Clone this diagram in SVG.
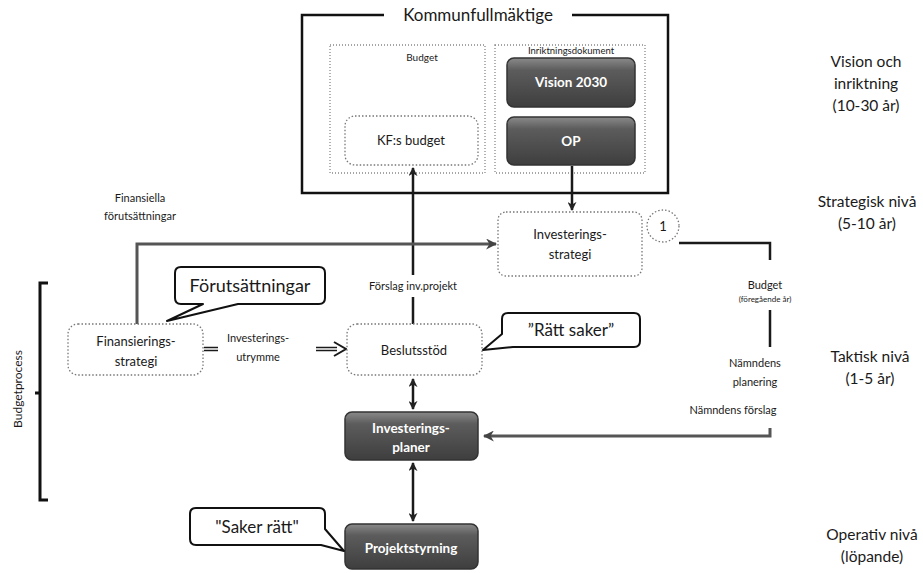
<svg xmlns="http://www.w3.org/2000/svg" width="923" height="573" viewBox="0 0 923 573">
<defs>
<linearGradient id="dark" x1="0" y1="0" x2="0" y2="1">
<stop offset="0" stop-color="#8a8a8a"/>
<stop offset="0.25" stop-color="#5c5c5c"/>
<stop offset="1" stop-color="#3e3e3e"/>
</linearGradient>
<marker id="arr" viewBox="0 0 10 10" refX="9" refY="5" markerWidth="9" markerHeight="9" markerUnits="userSpaceOnUse" orient="auto-start-reverse">
<path d="M0,0 L10,5 L0,10 L3,5 Z" fill="#222"/>
</marker>
<marker id="arrG" viewBox="0 0 10 10" refX="9" refY="5" markerWidth="11" markerHeight="11" markerUnits="userSpaceOnUse" orient="auto">
<path d="M0,0 L10,5 L0,10 L3,5 Z" fill="#444"/>
</marker>
</defs>
<style>
text{font-family:Lato,"Liberation Sans",sans-serif;fill:#1a1a1a}
.lt{fill:#fff;stroke:#777;stroke-width:1.3;stroke-dasharray:1.5 2}
.dk{fill:url(#dark);stroke:#333;stroke-width:1.5}
.grp{fill:none;stroke:#888;stroke-width:1.3;stroke-dasharray:1 2}
.call{fill:#fff;stroke:#111;stroke-width:2;stroke-linejoin:round}
.c{fill:none;stroke:#1a1a1a;stroke-width:2.5}
.g{fill:none;stroke:#555;stroke-width:3}
.dbl{fill:none;stroke:#1a1a1a;stroke-width:4.5}
.dbli{fill:none;stroke:#fff;stroke-width:1.5}
.t13{font-size:13px;text-anchor:middle}
.w{fill:#fff;font-size:13.5px;text-anchor:middle;font-weight:bold}
.side{font-size:15.5px;text-anchor:middle}
.s11{font-size:11px;text-anchor:middle}
</style>

<g id="kf">
<rect x="302" y="15" width="366" height="178" fill="none" stroke="#111" stroke-width="2.5"/>
<rect x="384" y="5" width="188" height="20" fill="#fff"/>
<text x="478" y="21" font-size="17" text-anchor="middle">Kommunfullmäktige</text>
</g>
<g id="budget-group">
<rect class="grp" x="330" y="45" width="155" height="128"/>
<text x="422" y="61" font-size="10" text-anchor="middle">Budget</text>
</g>
<g id="inriktning-group">
<rect class="grp" x="495" y="45" width="150" height="128"/>
<text x="571" y="54" font-size="9.5" text-anchor="middle">Inriktningsdokument</text>
</g>
<g id="vision">
<rect class="dk" x="507" y="58" width="128" height="49" rx="7"/>
<text class="w" x="571" y="87">Vision 2030</text>
</g>
<g id="op">
<rect class="dk" x="507" y="117" width="128" height="48" rx="7"/>
<text class="w" x="571" y="146">OP</text>
</g>
<g id="kfbudget">
<rect class="lt" x="345" y="116" width="133" height="49" rx="10"/>
<text class="t13" x="411" y="145" font-size="14">KF:s budget</text>
</g>

<g id="connectors">
<path class="c" d="M413,324 V297 M413,275 V168" marker-end="url(#arr)"/>
<path class="c" d="M572,166 V210" marker-end="url(#arr)"/>
<path class="g" d="M137,324 V244 H496" marker-end="url(#arrG)"/>
<path class="c" d="M679,243 H770 V260 M770,310 V347"/>
<path class="g" d="M770,428 V436 H484" marker-end="url(#arrG)"/>
<path class="dbl" d="M204,349 H218 M316,349 H337"/>
<path class="dbli" d="M204,349 H218 M316,349 H337"/>
<path d="M334,342 L346,349 L334,356" fill="none" stroke="#1a1a1a" stroke-width="2"/>
<path class="c" d="M413,379 V409" marker-start="url(#arr)" marker-end="url(#arr)"/>
<path class="c" d="M413,463 V521" marker-start="url(#arr)" marker-end="url(#arr)"/>
<path d="M48,283 H40 V500 H48 M40,393 H35" fill="none" stroke="#111" stroke-width="3"/>
</g>

<g id="labels">
<text class="s11" x="140" y="202">Finansiella</text>
<text class="s11" x="140" y="220">förutsättningar</text>
<text class="s11" x="413" y="290" font-size="12">Förslag inv.projekt</text>
<text class="s11" x="258" y="342" font-size="12">Investerings-</text>
<text class="s11" x="258" y="361" font-size="12">utrymme</text>
<text class="s11" x="765" y="289">Budget</text>
<text x="765" y="302" font-size="8" text-anchor="middle">(föregående år)</text>
<text class="s11" x="755" y="367" font-size="12">Nämndens</text>
<text class="s11" x="755" y="386" font-size="12">planering</text>
<text class="s11" x="733" y="414" font-size="12">Nämndens förslag</text>
<text x="22" y="389" font-size="12" text-anchor="middle" transform="rotate(-90 22 389)">Budgetprocess</text>
</g>

<g id="invstrategi">
<rect class="lt" x="498" y="212" width="144" height="64" rx="8"/>
<text class="t13" x="570" y="239">Investerings-</text>
<text class="t13" x="570" y="259">strategi</text>
</g>
<g id="marker1">
<circle cx="663" cy="226" r="16" fill="#fff" stroke="#777" stroke-width="1.3" stroke-dasharray="1.5 2"/>
<text class="t13" x="663" y="231">1</text>
</g>
<g id="finstrategi">
<rect class="lt" x="68" y="324" width="135" height="51" rx="10"/>
<text class="t13" x="136" y="346">Finansierings-</text>
<text class="t13" x="136" y="366">strategi</text>
</g>
<g id="beslutsstod">
<rect class="lt" x="347" y="324" width="135" height="51" rx="10"/>
<text class="t13" x="414" y="355">Beslutsstöd</text>
</g>
<g id="invplaner">
<rect class="dk" x="345" y="412" width="133" height="48" rx="7"/>
<text class="w" x="411" y="433">Investerings-</text>
<text class="w" x="411" y="452">planer</text>
</g>
<g id="projektstyrning">
<rect class="dk" x="345" y="524" width="133" height="45" rx="7"/>
<text class="w" x="411" y="553">Projektstyrning</text>
</g>

<g id="callout-forutsattningar">
<path class="call" d="M181,267 H319 Q325,267 325,273 V298 Q325,304 319,304 H238 L167,321 L203,304 H181 Q175,304 175,298 V273 Q175,267 181,267 Z"/>
<text x="250" y="292" font-size="18" text-anchor="middle">Förutsättningar</text>
</g>
<g id="callout-rattsaker">
<path class="call" d="M508,313 H634 Q640,313 640,319 V341 Q640,347 634,347 H513 L483,350 L502,334 V319 Q502,313 508,313 Z"/>
<text x="571" y="336" font-size="17" text-anchor="middle">”Rätt saker”</text>
</g>
<g id="callout-sakerratt">
<path class="call" d="M196,508 H319 Q325,508 325,514 V529 L344,551 L321,545 H196 Q190,545 190,539 V514 Q190,508 196,508 Z"/>
<text x="257" y="533" font-size="17" text-anchor="middle">"Saker rätt"</text>
</g>

<g id="levels">
<text class="side" x="866" y="67">Vision och</text>
<text class="side" x="866" y="89">inriktning</text>
<text class="side" x="866" y="111">(10-30 år)</text>
<text class="side" x="867" y="207">Strategisk nivå</text>
<text class="side" x="867" y="229">(5-10 år)</text>
<text class="side" x="870" y="362">Taktisk nivå</text>
<text class="side" x="870" y="384">(1-5 år)</text>
<text class="side" x="872" y="540">Operativ nivå</text>
<text class="side" x="872" y="562">(löpande)</text>
</g>
</svg>
